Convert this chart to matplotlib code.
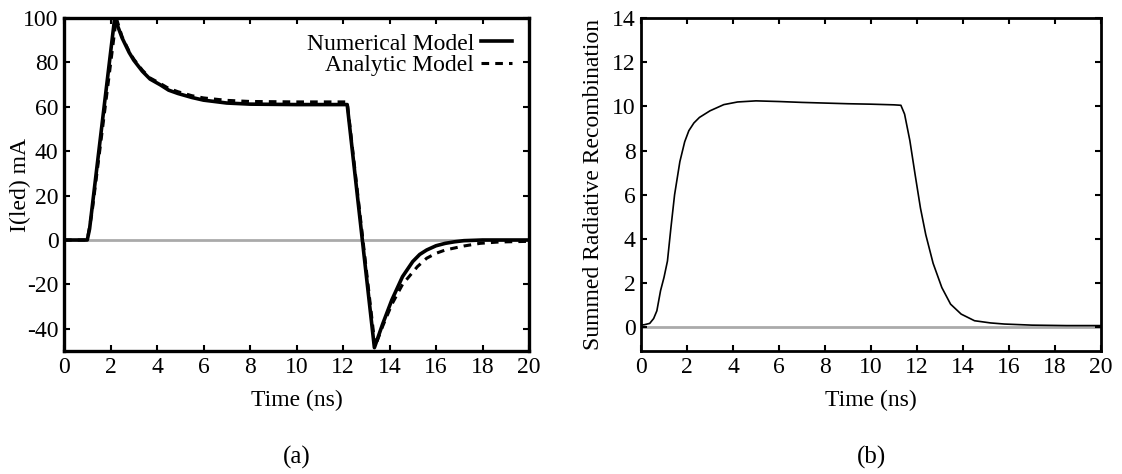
import matplotlib.pyplot as plt
import numpy as np

plt.rcParams['font.family'] = ['Liberation Serif', 'DejaVu Serif']
plt.rcParams['font.size'] = 17
plt.rcParams['axes.unicode_minus'] = False

# (a) LED current, numerical model
t_num = [0, 1.0, 1.1, 2.18, 2.5, 2.8, 3.0, 3.37, 3.7, 4.14, 4.5, 4.9, 5.5, 6.0,
         7.0, 8.0, 10.0, 12.18, 13.35, 13.7, 14.1, 14.56, 15.0, 15.3, 15.6,
         16.0, 16.4, 16.8, 17.2, 18.0, 20.0]
i_num = [0, 0, 5, 100, 91, 84.5, 81, 76, 72.5, 69.9, 67.5, 66, 64.2, 63,
         61.7, 61.2, 61, 61, -48.5, -38, -27, -16.5, -9.7, -6.5, -4.5,
         -2.6, -1.5, -0.8, -0.3, 0, 0]

# (a) LED current, analytic model
t_ana = [0, 1.0, 1.2, 2.25, 2.5, 2.8, 3.0, 3.37, 3.7, 4.14, 4.5, 4.9, 5.5, 6.0,
         7.0, 8.0, 10.0, 12.18, 13.38, 13.7, 14.1, 14.56, 15.2, 15.6, 16.0,
         16.4, 17.2, 17.9, 18.7, 20.0]
i_ana = [0, 0, 12, 100, 91.5, 85, 81.5, 76.5, 73, 70.5, 68.3, 66.8, 65, 64,
         62.9, 62.4, 62.2, 62.2, -48, -39, -29, -20, -12, -8.2, -6,
         -4.5, -2.7, -1.5, -0.9, -0.6]

# (b) summed radiative recombination
t_rad = [0, 0.15, 0.38, 0.55, 0.69, 0.85, 1.0, 1.15, 1.3, 1.46, 1.69, 1.9,
         2.08, 2.3, 2.54, 3.0, 3.6, 4.2, 5.0, 6.0, 7.0, 8.0, 9.0, 10.0, 11.0,
         11.3, 11.46, 11.69, 11.92, 12.15, 12.38, 12.7, 13.08, 13.46, 13.92,
         14.5, 15.2, 15.8, 17.0, 18.5, 20.0]
r_rad = [0.1, 0.12, 0.18, 0.4, 0.75, 1.66, 2.26, 3.0, 4.5, 6.0, 7.5, 8.4,
         8.9, 9.25, 9.5, 9.8, 10.08, 10.2, 10.25, 10.22, 10.18, 10.15, 10.12,
         10.1, 10.07, 10.05, 9.65, 8.45, 6.9, 5.4, 4.2, 2.9, 1.8, 1.05, 0.6,
         0.3, 0.2, 0.15, 0.1, 0.08, 0.08]

fig = plt.figure(figsize=(11.22, 4.74), dpi=100)
ax1 = fig.add_axes([64 / 1122, 1 - 351 / 474, 465 / 1122, 333 / 474])
ax2 = fig.add_axes([641 / 1122, 1 - 351 / 474, 460 / 1122, 333 / 474])

ax1.axhline(0, color='#aaaaaa', lw=2, zorder=1)
ax1.plot(t_num, i_num, color='black', lw=2.6, label='Numerical Model', zorder=3)
ax1.plot(t_ana, i_ana, color='black', lw=2.2, ls=(0, (2.5, 2)), label='Analytic Model', zorder=2)
ax1.set_xlim(0, 20)
ax1.set_ylim(-50, 100)
ax1.set_xticks(range(0, 21, 2))
ax1.set_yticks(range(-40, 101, 20))
ax1.set_xlabel('Time (ns)')
ax1.set_ylabel('I(led) mA')
ax1.yaxis.set_label_coords((31 - 64) / 465, 0.5)
ax1.legend(loc='upper right', frameon=False, markerfirst=False, handlelength=1.3,
           handletextpad=0.3, labelspacing=0.0, borderpad=0, borderaxespad=0,
           bbox_to_anchor=((512 - 64) / 465, (351 - 33) / 333))
for s in ax1.spines.values():
    s.set_linewidth(2.4)

ax2.axhline(0, color='#aaaaaa', lw=2, zorder=1)
ax2.plot(t_rad, r_rad, color='black', lw=1.2, zorder=3)
ax2.set_xlim(0, 20)
ax2.set_ylim(-1.07, 14)
ax2.set_xticks(range(0, 21, 2))
ax2.set_yticks(range(0, 15, 2))
ax2.set_xlabel('Time (ns)')
ax2.set_ylabel('Summed Radiative Recombination')
ax2.yaxis.set_label_coords((604 - 641) / 460, 0.5)
for s in ax2.spines.values():
    s.set_linewidth(2.0)

for ax in (ax1, ax2):
    ax.tick_params(direction='in', top=True, right=True, length=4, width=1.5,
                   labelsize=17, pad=4)
    ax.xaxis.set_label_coords(0.5, -(390 - 351) / 333)

fig.text((64 + 529) / 2 / 1122, 1 - 457 / 474, '(a)', ha='center', va='center', fontsize=18)
fig.text((641 + 1101) / 2 / 1122, 1 - 457 / 474, '(b)', ha='center', va='center', fontsize=18)

fig.savefig('out.png', dpi=100)
